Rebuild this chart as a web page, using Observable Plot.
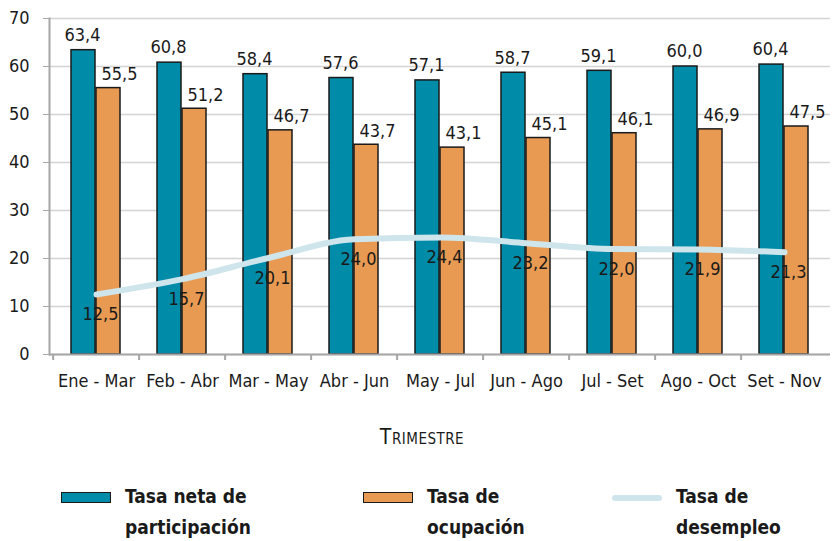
<!DOCTYPE html>
<html><head><meta charset="utf-8">
<script src="https://cdn.jsdelivr.net/npm/d3@7"></script>
<script src="https://cdn.jsdelivr.net/npm/@observablehq/plot@0.6"></script>
<style>
body{margin:0;background:#fff;font-family:"Liberation Sans Narrow","DejaVu Sans Condensed",sans-serif;color:#1a1a1a;}
#wrap{position:relative;width:832px;height:541px;overflow:hidden;}
#chart{position:absolute;left:0;top:0;}
#xtitle{position:absolute;left:322px;width:200px;top:425px;text-align:center;font-size:21px;font-variant:small-caps;letter-spacing:0.5px;}
.leg{position:absolute;top:481px;display:flex;align-items:flex-start;}
.sw{width:50px;height:11px;margin-top:11px;box-sizing:border-box;}
.lt{margin-left:14px;font-weight:bold;font-size:19px;line-height:31px;}
</style></head><body><div id="wrap"><div id="chart"></div>
<div id="xtitle">Trimestre</div>
<div class="leg" style="left:61px"><div class="sw" style="background:#008ba8;border:1.5px solid #1a1a1a"></div><div class="lt">Tasa neta de<br>participación</div></div>
<div class="leg" style="left:363px"><div class="sw" style="background:#e99a52;border:1.5px solid #1a1a1a"></div><div class="lt">Tasa de<br>ocupación</div></div>
<div class="leg" style="left:612px"><div class="sw" style="background:#cfe5ec;height:6px;margin-top:14px;border-radius:3px"></div><div class="lt">Tasa de<br>desempleo</div></div>
</div>
<script>
const trimestres = ["Ene - Mar","Feb - Abr","Mar - May","Abr - Jun","May - Jul","Jun - Ago","Jul - Set","Ago - Oct","Set - Nov"];
const participacion = [63.4,60.8,58.4,57.6,57.1,58.7,59.1,60.0,60.4];
const ocupacion = [55.5,51.2,46.7,43.7,43.1,45.1,46.1,46.9,47.5];
const desempleo = [12.5,15.7,20.1,24.0,24.4,23.2,22.0,21.9,21.3];
const yTicks = [0,10,20,30,40,50,60,70];

const fmt = v => v.toFixed(1).replace(".", ",");
const rows = trimestres.map((t,i)=>({t, p:participacion[i], o:ocupacion[i], d:desempleo[i]}));
const mL = 49, mR = 2, W = 832;
const bw = (W - mL - mR) / trimestres.length;
const font = '"Liberation Sans Narrow","DejaVu Sans Condensed",sans-serif';

const chart = Plot.plot({
  width: W, height: 410,
  marginLeft: mL, marginRight: mR, marginTop: 18, marginBottom: 56,
  style: {fontFamily: font, fontSize: "18px", color: "#1a1a1a", background: "white", overflow: "visible"},
  x: {type: "band", domain: trimestres, padding: 0},
  y: {domain: [0, 70]},
  marks: [
    Plot.gridY(yTicks, {stroke: "#d4d4d4", strokeOpacity: 1, strokeWidth: 1.5}),
    Plot.barY(rows, {x: "t", y: "p", fill: "#008ba8", stroke: "#1a1a1a", strokeWidth: 1.5, insetLeft: 18, insetRight: 44}),
    Plot.barY(rows, {x: "t", y: "o", fill: "#e99a52", stroke: "#1a1a1a", strokeWidth: 1.5, insetLeft: 43, insetRight: 19}),
    Plot.line(rows, {x: "t", y: "d", stroke: "#cfe5ec", strokeWidth: 6, curve: "monotone-x"}),
    Plot.text(rows, {x: "t", y: "p", text: d => fmt(d.p), dx: -14, dy: -15, fontSize: 18}),
    Plot.text(rows, {x: "t", y: "o", text: d => fmt(d.o), dx: 23, dy: -14, fontSize: 18}),
    Plot.text(rows, {x: "t", y: "d", text: d => fmt(d.d), dx: 4, dy: 20, fontSize: 18}),
    Plot.ruleY([0], {stroke: "#a6a6a6", strokeWidth: 2}),
    Plot.frame({anchor: "left", stroke: "#a6a6a6", strokeWidth: 2}),
    Plot.axisY({ticks: yTicks, tickSize: 6, tickPadding: 14, stroke: "#a6a6a6", label: null, fontSize: 18}),
    Plot.axisX({tickSize: 0, tickPadding: 20, label: null, fontSize: 18}),
    Plot.axisX({tickSize: 6, tickFormat: () => "", dx: -bw / 2, stroke: "#a6a6a6", strokeWidth: 2, label: null})
  ]
});
document.getElementById("chart").appendChild(chart);
</script>
</body></html>
